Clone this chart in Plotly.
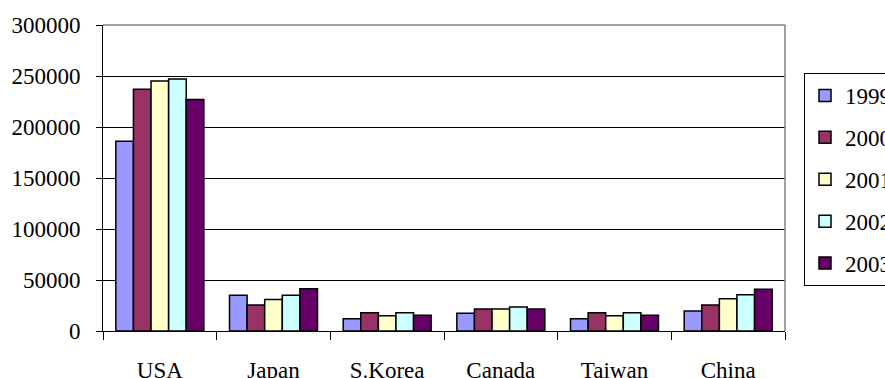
import plotly.graph_objects as go

categories = ["USA", "Japan", "S.Korea", "Canada", "Taiwan", "China"]
years = ["1999", "2000", "2001", "2002", "2003"]
v1999 = [186000, 35000, 12000, 17500, 12000, 19500]
v2000 = [237000, 25500, 18000, 21500, 18000, 25500]
v2001 = [245000, 31000, 15000, 21500, 15000, 31500]
v2002 = [247000, 35000, 18000, 23500, 18000, 35500]
v2003 = [227000, 41500, 15500, 21500, 15500, 41000]
series = [v1999, v2000, v2001, v2002, v2003]
colors = ["#9999FF", "#993366", "#FFFFCC", "#CCFFFF", "#660066"]
yticks = [0, 50000, 100000, 150000, 200000, 250000, 300000]

FONT = "Liberation Serif, Times New Roman, serif"

fig = go.Figure()
for name, vals, col in zip(years, series, colors):
    fig.add_trace(go.Bar(
        x=categories, y=vals, name=name, legendgroup=name,
        marker=dict(color=col, line=dict(color="black", width=1.5)),
    ))

fig.update_layout(
    width=885, height=378,
    margin=dict(l=103, r=100, t=25, b=47, autoexpand=False),
    paper_bgcolor="white", plot_bgcolor="white",
    barmode="group", bargap=0.226, bargroupgap=0,
    font=dict(family=FONT, size=23, color="black"),
    showlegend=True,
    legend=dict(
        x=(804 - 103) / 682, xanchor="left",
        y=(331 - 73) / 306, yanchor="top",
        bordercolor="black", borderwidth=1, bgcolor="white",
        font=dict(family=FONT, size=23, color="black"),
        tracegroupgap=9, itemwidth=30,
    ),
    xaxis=dict(
        showgrid=False, showline=True, linecolor="black", linewidth=1,
        ticks="outside", tickson="boundaries", ticklen=8, tickcolor="black",
        ticklabelstandoff=18, fixedrange=True,
    ),
    yaxis=dict(
        range=[0, 300000], tickvals=yticks, ticktext=[str(t) for t in yticks],
        showgrid=True, gridcolor="black", gridwidth=1,
        showline=True, linecolor="black", linewidth=1,
        ticks="outside", ticklen=6, tickcolor="black",
        ticklabelstandoff=11, zeroline=False, fixedrange=True,
    ),
    shapes=[
        dict(type="line", xref="paper", yref="paper", x0=0, x1=1, y0=1, y1=1,
             line=dict(color="#808080", width=1.5)),
        dict(type="line", xref="paper", yref="paper", x0=1, x1=1, y0=0, y1=1,
             line=dict(color="#808080", width=1.5)),
    ],
)

fig.write_html("out.html")
